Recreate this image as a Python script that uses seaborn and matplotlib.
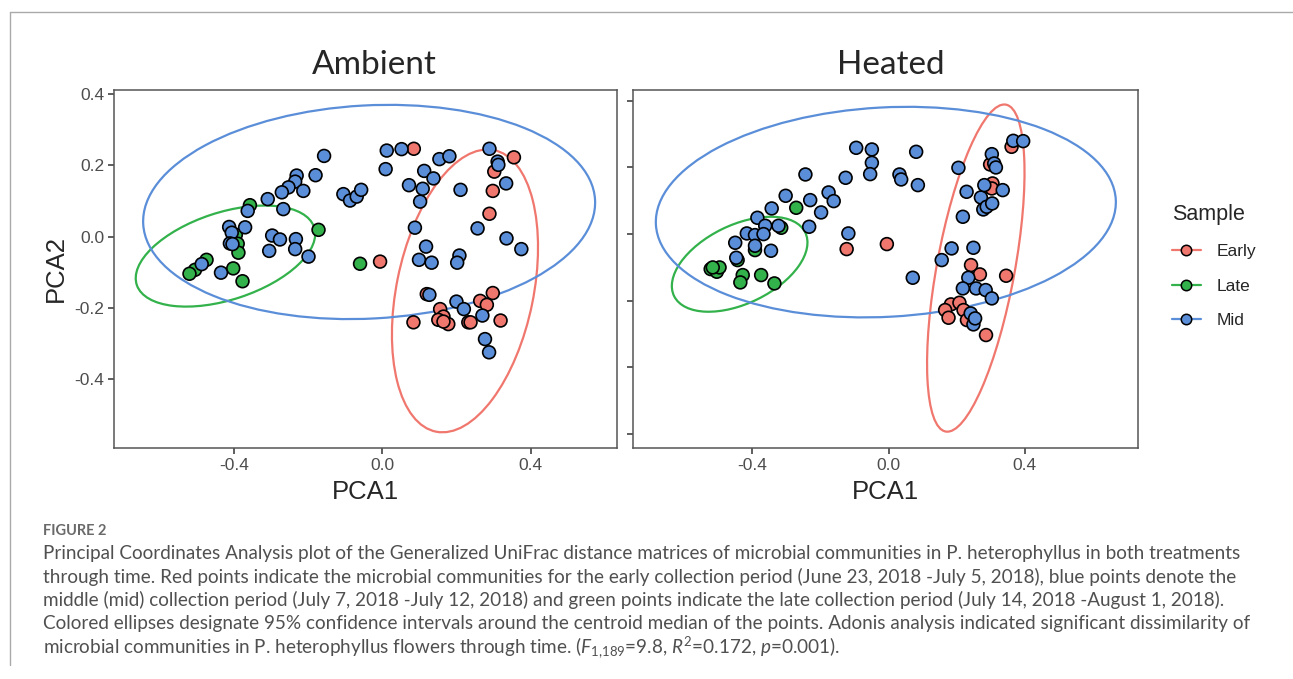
import numpy as np
import pandas as pd
import matplotlib
matplotlib.use("Agg")
import matplotlib.pyplot as plt
from matplotlib.patches import Ellipse
from matplotlib.lines import Line2D
import seaborn as sns

# sample colours (ggplot-like hues)
samples = ["Early", "Late", "Mid"]
colors = ["#F0776E", "#33B24B", "#5B8ED8"]

# ---- Ambient panel: PCA1 / PCA2
amb_early_x = [0.085, 0.355, 0.302, 0.298, 0.289, -0.006, 0.120, 0.298, 0.264, 0.282,
               0.156, 0.165, 0.151, 0.178, 0.084, 0.232, 0.238, 0.319, 0.165]
amb_early_y = [0.246, 0.222, 0.182, 0.128, 0.064, -0.070, -0.161, -0.158, -0.180, -0.191,
               -0.203, -0.224, -0.233, -0.245, -0.240, -0.240, -0.240, -0.235, -0.238]
amb_late_x = [-0.357, -0.172, -0.395, -0.390, -0.388, -0.474, -0.505, -0.520, -0.402, -0.377, -0.060]
amb_late_y = [0.088, 0.019, 0.005, -0.020, -0.045, -0.065, -0.093, -0.104, -0.089, -0.125, -0.076]
amb_mid_x = [-0.157, -0.231, -0.180, -0.235, -0.253, -0.271, -0.213, -0.309, -0.267, -0.363,
             -0.370, -0.413, -0.406, -0.411, -0.404, -0.297, -0.276, -0.233, -0.235, -0.305,
             -0.199, -0.487, -0.435, -0.105, -0.087, -0.069, -0.057, 0.012, 0.052, 0.009,
             0.072, 0.102, 0.109, 0.113, 0.138, 0.154, 0.181, 0.088, 0.118, 0.099,
             0.133, 0.211, 0.257, 0.289, 0.311, 0.313, 0.334, 0.335, 0.375, 0.208,
             0.202, 0.127, 0.200, 0.220, 0.270, 0.277, 0.288]
amb_mid_y = [0.226, 0.171, 0.172, 0.154, 0.138, 0.124, 0.128, 0.105, 0.077, 0.072,
             0.026, 0.027, 0.011, -0.019, -0.021, 0.003, -0.008, -0.007, -0.035, -0.040,
             -0.056, -0.077, -0.101, 0.119, 0.101, 0.112, 0.131, 0.241, 0.245, 0.189,
             0.144, 0.098, 0.134, 0.184, 0.163, 0.217, 0.225, 0.025, -0.028, -0.065,
             -0.073, 0.131, 0.023, 0.246, 0.210, 0.201, 0.149, -0.005, -0.035, -0.053,
             -0.073, -0.163, -0.182, -0.203, -0.221, -0.287, -0.324]

# ---- Heated panel
hot_early_x = [0.361, 0.298, 0.305, 0.303, -0.123, -0.005, 0.242, 0.268, 0.345, 0.183,
               0.208, 0.166, 0.176, 0.220, 0.230, 0.286]
hot_early_y = [0.262, 0.209, 0.152, 0.137, -0.045, -0.030, -0.093, -0.121, -0.125, -0.211,
               -0.206, -0.228, -0.251, -0.228, -0.258, -0.303]
hot_late_x = [-0.271, -0.315, -0.392, -0.443, -0.522, -0.504, -0.496, -0.516, -0.428, -0.435, -0.374, -0.335]
hot_late_y = [0.079, 0.019, -0.048, -0.078, -0.105, -0.113, -0.100, -0.100, -0.123, -0.145, -0.123, -0.148]
hot_mid_x = [-0.095, -0.049, -0.049, -0.054, 0.081, 0.032, 0.037, 0.086, -0.126, -0.244,
             -0.302, -0.230, -0.176, -0.161, -0.198, -0.343, -0.385, -0.362, -0.323, -0.233,
             -0.416, -0.392, -0.367, -0.450, -0.392, -0.345, -0.447, -0.118, 0.071, 0.205,
             0.229, 0.218, 0.271, 0.278, 0.288, 0.304, 0.281, 0.335, 0.303, 0.310,
             0.315, 0.366, 0.395, 0.185, 0.249, 0.156, 0.234, 0.218, 0.257, 0.285,
             0.303, 0.241, 0.249, 0.254]
hot_mid_y = [0.259, 0.254, 0.214, 0.180, 0.247, 0.179, 0.164, 0.147, 0.169, 0.179,
             0.115, 0.102, 0.125, 0.099, 0.065, 0.077, 0.049, 0.025, 0.025, 0.022,
             0.002, -0.003, 0.000, -0.026, -0.035, -0.050, -0.071, 0.002, -0.131, 0.199,
             0.127, 0.052, 0.110, 0.074, 0.082, 0.092, 0.147, 0.132, 0.240, 0.212,
             0.200, 0.280, 0.279, -0.043, -0.041, -0.078, -0.131, -0.163, -0.163, -0.168,
             -0.193, -0.238, -0.271, -0.253]

# ---- 95% ellipses (Early, Late, Mid): centre, half x-extent, half y-extent, cross term
amb_ell_cx = [0.223, -0.423, -0.0355]
amb_ell_cy = [-0.152, -0.0545, 0.069]
amb_ell_hw = [0.197, 0.242, 0.6095]
amb_ell_hh = [0.396, 0.1415, 0.300]
amb_ell_cross = [0.024, 0.015, 0.016]

hot_ell_cx = [0.256, -0.437, -0.008]
hot_ell_cy = [-0.102, -0.0905, 0.066]
hot_ell_hw = [0.143, 0.199, 0.675]
hot_ell_hh = [0.491, 0.1425, 0.316]
hot_ell_cross = [0.041, 0.013, 0.020]

caption_lines = [
    "Principal Coordinates Analysis plot of the Generalized UniFrac distance matrices of microbial communities in P. heterophyllus in both treatments",
    "through time. Red points indicate the microbial communities for the early collection period (June 23, 2018 -July 5, 2018), blue points denote the",
    "middle (mid) collection period (July 7, 2018 -July 12, 2018) and green points indicate the late collection period (July 14, 2018 -August 1, 2018).",
    "Colored ellipses designate 95% confidence intervals around the centroid median of the points. Adonis analysis indicated significant dissimilarity of",
    r"microbial communities in P. heterophyllus flowers through time. ($F_{1{,}189}$=9.8, $R^2$=0.172, $p$=0.001).",
]


def panel_frame(xs, ys):
    parts = []
    for s, x, y in zip(samples, xs, ys):
        parts.append(pd.DataFrame({"PCA1": x, "PCA2": y, "Sample": s}))
    return pd.concat(parts, ignore_index=True)


amb = panel_frame([amb_early_x, amb_late_x, amb_mid_x], [amb_early_y, amb_late_y, amb_mid_y])
hot = panel_frame([hot_early_x, hot_late_x, hot_mid_x], [hot_early_y, hot_late_y, hot_mid_y])

sns.set_theme(style="white")
plt.rcParams["font.family"] = ["Liberation Sans", "DejaVu Sans"]
plt.rcParams["axes.unicode_minus"] = False
plt.rcParams["mathtext.fontset"] = "custom"
plt.rcParams["mathtext.rm"] = "Lato"
plt.rcParams["mathtext.it"] = "Lato:italic"

fig = plt.figure(figsize=(12.93, 6.79), dpi=100)
W, H = 1293, 679
ax1 = fig.add_axes([114 / W, 1 - 448 / H, 503 / W, 358.5 / H])
ax2 = fig.add_axes([633 / W, 1 - 448 / H, 505 / W, 358.5 / H])

pal = dict(zip(samples, colors))


def draw_panel(ax, df, cx, cy, hw, hh, cross, title, title_x):
    for i, s in enumerate(samples):
        cov = np.array([[hw[i] ** 2, cross[i]], [cross[i], hh[i] ** 2]])
        vals, vecs = np.linalg.eigh(cov)
        ang = np.degrees(np.arctan2(vecs[1, 1], vecs[0, 1]))
        ax.add_patch(Ellipse((cx[i], cy[i]), 2 * np.sqrt(vals[1]), 2 * np.sqrt(vals[0]),
                             angle=ang, fill=False, edgecolor=colors[i], lw=1.6, zorder=1))
    sns.scatterplot(data=df, x="PCA1", y="PCA2", hue="Sample", palette=pal, ax=ax,
                    s=85, edgecolor="black", linewidth=1.2, legend=False, zorder=3)
    ax.set_title(title, fontsize=24, family=["Lato", "DejaVu Sans"], pad=11, x=title_x)
    ax.set_xlabel("PCA1", fontsize=18.5, labelpad=5)
    ax.set_xticks([-0.4, 0.0, 0.4])
    ax.set_xticklabels(["-0.4", "0.0", "0.4"])
    for sp in ax.spines.values():
        sp.set_color("#555555")
        sp.set_linewidth(1.1)
    ax.tick_params(axis="both", direction="out", length=4, width=1.1, color="#333333",
                   labelcolor="#4d4d4d", labelsize=12.5, bottom=True, left=True, pad=3)


draw_panel(ax1, amb, amb_ell_cx, amb_ell_cy, amb_ell_hw, amb_ell_hh, amb_ell_cross, "Ambient", 0.517)
draw_panel(ax2, hot, hot_ell_cx, hot_ell_cy, hot_ell_hw, hot_ell_hh, hot_ell_cross, "Heated", 0.511)

ax1.set_xlim(-0.7236, 0.633)
ax1.set_ylim(-0.592, 0.412)
ax1.set_yticks([-0.4, -0.2, 0.0, 0.2, 0.4])
ax1.set_yticklabels(["-0.4", "-0.2", "0.0", "0.2", "0.4"])
ax1.set_ylabel("PCA2", fontsize=18.5, labelpad=5)

ax2.set_xlim(-0.750, 0.732)
ax2.set_ylim(-0.642, 0.434)
ax2.set_yticks([-0.6, -0.4, -0.2, 0.0, 0.2, 0.4])
ax2.set_yticklabels([])
ax2.set_ylabel("")

handles = [Line2D([], [], color=c, lw=1.6, marker="o", markersize=7.5,
                  markerfacecolor=c, markeredgecolor="black", markeredgewidth=1.1)
           for c in colors]
leg = fig.legend(handles, samples, title="Sample", loc="center left",
                 bbox_to_anchor=(1156 / W, 1 - 266 / H), frameon=False,
                 fontsize=12.5, title_fontsize=15.5, handlelength=1.7,
                 handletextpad=0.9, labelspacing=1.12)
leg._legend_box.align = "left"

# page decoration and caption
fig.add_artist(Line2D([10 / W, 1.0], [1 - 12 / H, 1 - 12 / H], color="#aaaaaa", lw=1))
fig.add_artist(Line2D([10 / W, 10 / W], [1 - 12 / H, 1 - 665 / H], color="#aaaaaa", lw=1))
cap_font = ["Lato", "DejaVu Sans"]
fig.text(43 / W, 1 - 531 / H, "FIGURE 2", fontsize=10.5, color="#6a6a6a", va="center",
         family=cap_font, fontweight="bold")
cap_texts = []
for i, line in enumerate(caption_lines):
    cap_texts.append(fig.text(43 / W, 1 - (553 + 23.5 * i) / H, line, fontsize=13,
                              color="#505050", va="center", family=cap_font))

# fit the caption size so the first line spans the same width as in the figure
fig.canvas.draw()
width0 = cap_texts[0].get_window_extent().width
size = 13 * (1232 - 43) / width0
for t in cap_texts:
    t.set_fontsize(size)

fig.savefig("out.png", dpi=100)
